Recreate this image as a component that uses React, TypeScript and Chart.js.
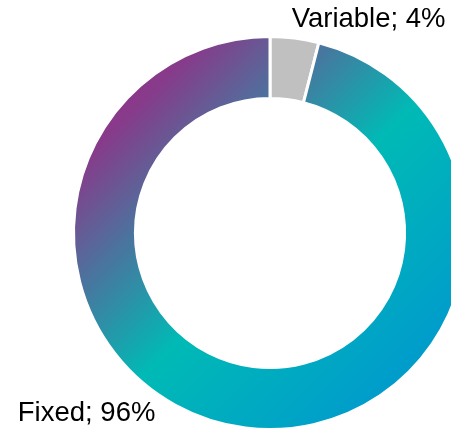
import React, { useEffect, useRef } from "react";
import { Chart, registerables } from "chart.js";

Chart.register(...registerables);

// Cost split shown as a ring
const categories = ["Variable", "Fixed"];
const shares = [4, 96];
const sliceLabels = ["Variable; 4%", "Fixed; 96%"];

const FONT = '27.5px "Liberation Sans", Arial, sans-serif';

// Where each slice's label sits, relative to the outer point of the slice's mid angle
const labelPlacement = [
  { dx: -3, dy: -11, align: "left" as CanvasTextAlign },
  { dx: -90, dy: -7, align: "right" as CanvasTextAlign },
];

const sliceLabelPlugin = {
  id: "sliceLabels",
  afterDatasetsDraw(chart: Chart) {
    const ctx = chart.ctx;
    const meta = chart.getDatasetMeta(0);
    ctx.save();
    ctx.font = FONT;
    ctx.fillStyle = "#000000";
    ctx.textBaseline = "alphabetic";
    meta.data.forEach((el: any, i: number) => {
      const { x, y, startAngle, endAngle, outerRadius } = el.getProps(
        ["x", "y", "startAngle", "endAngle", "outerRadius"],
        true
      );
      const mid = (startAngle + endAngle) / 2;
      const px = x + Math.cos(mid) * outerRadius;
      const py = y + Math.sin(mid) * outerRadius;
      const p = labelPlacement[i];
      ctx.textAlign = p.align;
      ctx.fillText(sliceLabels[i], px + p.dx, py + p.dy);
    });
    ctx.restore();
  },
};

export default function App() {
  const canvasRef = useRef<HTMLCanvasElement | null>(null);

  useEffect(() => {
    const canvas = canvasRef.current;
    if (!canvas) return;

    // Diagonal purple → teal → blue fill for the large slice
    const fixedFill = (context: any) => {
      const chart = context.chart;
      const area = chart.chartArea;
      if (!area) return "#00B9B5";
      const g = chart.ctx.createLinearGradient(area.left, area.top, area.right, area.bottom);
      g.addColorStop(0, "#9A2E89");
      g.addColorStop(0.17, "#883A8A");
      g.addColorStop(0.52, "#00BAB5");
      g.addColorStop(1, "#008ED6");
      return g;
    };

    const chart = new Chart(canvas, {
      type: "doughnut",
      data: {
        labels: categories,
        datasets: [
          {
            data: shares,
            backgroundColor: (context: any) =>
              context.dataIndex === 0 ? "#C0C0C0" : fixedFill(context),
            borderColor: "#FFFFFF",
            borderWidth: 3,
            hoverOffset: 0,
          },
        ],
      },
      options: {
        responsive: false,
        animation: false,
        events: [],
        cutout: "68.5%",
        layout: { padding: { left: 72, top: 35, right: 72, bottom: 39 } },
        plugins: {
          legend: { display: false },
          tooltip: { enabled: false },
        },
      },
      plugins: [sliceLabelPlugin],
    });

    return () => chart.destroy();
  }, []);

  return (
    <div
      style={{
        position: "fixed",
        left: 0,
        top: 0,
        width: 451,
        height: 429,
        overflow: "hidden",
        background: "#FFFFFF",
      }}
    >
      <canvas
        ref={canvasRef}
        width={540}
        height={470}
        style={{ position: "absolute", left: 0, top: 0, width: 540, height: 470 }}
      />
    </div>
  );
}
